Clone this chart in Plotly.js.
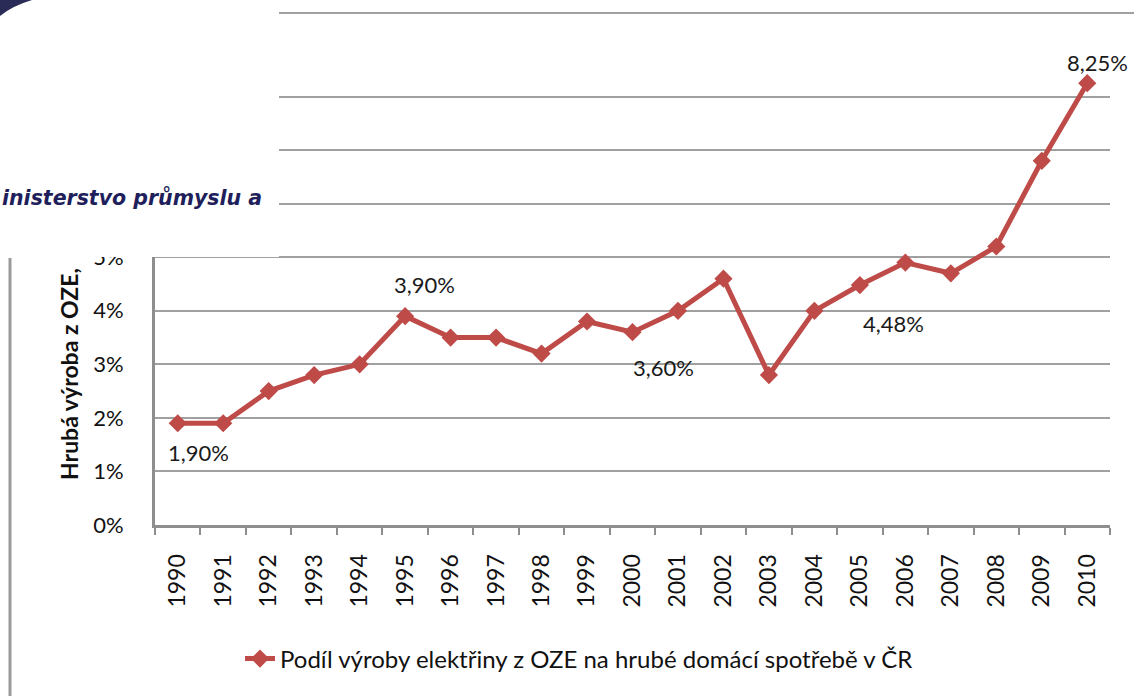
<!DOCTYPE html>
<html>
<head>
<meta charset="utf-8">
<script src="https://cdn.plot.ly/plotly-3.0.1.min.js"></script>
<style>
  html, body { margin: 0; padding: 0; background: #fff; }
  #chart { width: 1134px; height: 696px; }
</style>
</head>
<body>
<div id="chart"></div>
<script>
// data (share of RES electricity in gross domestic consumption, %)
let years = ['1990', '1991', '1992', '1993', '1994', '1995', '1996', '1997', '1998', '1999', '2000',
             '2001', '2002', '2003', '2004', '2005', '2006', '2007', '2008', '2009', '2010'];
let shares = [1.90, 1.90, 2.50, 2.80, 3.00, 3.90, 3.50, 3.50, 3.20, 3.80, 3.60,
              4.00, 4.60, 2.80, 4.00, 4.48, 4.90, 4.70, 5.20, 6.80, 8.25];
let labelYears = ['1990', '1995', '2000', '2005', '2010'];
// ticks 6-9 % are hidden under the slide's white block in the picture
let yTickVals = [0, 1, 2, 3, 4, 5, 6, 7, 8, 9];
let yTickText = ['0%', '1%', '2%', '3%', '4%', '5%', '', '', '', ''];
let seriesName = 'Podíl výroby elektřiny z OZE na hrubé domácí spotřebě v ČR';
let yTitle = 'Hrubá výroba z OZE,';
let slideText = 'inisterstvo průmyslu a';

// where each data label sits relative to its point (px)
let labelShift = {
    '1990': [21, -29],
    '1995': [19, 32],
    '2000': [31, -35],
    '2005': [34, -38],
    '2010': [10, 21]
};

let FONT = 'Lato, "Open Sans", sans-serif';
let RED = '#BE4B48';
let GRID = '#a0a0a0';
let AXIS = '#8e8e8e';

// plot area margins
let M = { l: 155, r: 24, t: 43, b: 171 };
let W = 1134, H = 696;
let pw = W - M.l - M.r, ph = H - M.t - M.b;
let px = x => (x - M.l) / pw;
let py = y => (H - M.b - y) / ph;

// 1. Trace data
let trace = {
    x: years,
    y: shares,
    name: seriesName,
    type: 'scatter',
    mode: 'lines+markers',
    line: { color: RED, width: 5 },
    marker: { symbol: 'diamond', size: 14, color: RED },
    hoverinfo: 'skip'
};

// data labels (category axis -> position by index)
let fmt = v => v.toFixed(2).replace('.', ',') + '%';
let labels = labelYears.map(yr => {
    let i = years.indexOf(yr);
    return {
        x: i, y: shares[i], xref: 'x', yref: 'y',
        text: fmt(shares[i]),
        showarrow: false,
        xshift: labelShift[yr][0],
        yshift: labelShift[yr][1],
        font: { family: FONT, size: 22, color: '#1a1a1a' }
    };
});

// cut-off axis title and the slide text lying over the chart
let extras = [
    {
        text: yTitle,
        xref: 'paper', yref: 'paper',
        x: px(69), y: py(482),
        xanchor: 'center', yanchor: 'bottom',
        textangle: -90,
        showarrow: false,
        font: { family: FONT, size: 23, color: '#111', weight: 'bold' }
    },
    {
        text: slideText,
        xref: 'paper', yref: 'paper',
        x: px(0), y: py(198),
        xanchor: 'left', yanchor: 'middle',
        showarrow: false,
        font: { family: '"DejaVu Sans", sans-serif', size: 20.5, color: '#1f1f5c', weight: 'bold', style: 'italic' }
    }
];

let shapes = [
    // white block of the slide covering the top-left corner
    {
        type: 'rect', xref: 'paper', yref: 'paper', layer: 'above',
        x0: px(-5), x1: px(279), y0: py(257), y1: py(-5),
        fillcolor: '#ffffff', line: { width: 0 }
    },
    // navy corner
    {
        type: 'path', xref: 'paper', yref: 'paper', layer: 'above',
        path: 'M' + px(0) + ',' + py(0) + ' L' + px(32) + ',' + py(0) +
              ' Q' + px(12) + ',' + py(6) + ' ' + px(0) + ',' + py(16) + ' Z',
        fillcolor: '#2b2b58', line: { width: 0 }
    },
    // top rule of the slide
    {
        type: 'line', xref: 'paper', yref: 'paper', layer: 'above',
        x0: px(279), x1: px(1134), y0: py(13), y1: py(13),
        line: { color: GRID, width: 2 }
    },
    // left border of the chart frame
    {
        type: 'line', xref: 'paper', yref: 'paper', layer: 'above',
        x0: px(10), x1: px(10), y0: py(258), y1: py(700),
        line: { color: '#9a9a9a', width: 3 }
    }
];

let layout = {
    width: W,
    height: H,
    margin: M,
    paper_bgcolor: '#ffffff',
    plot_bgcolor: '#ffffff',
    font: { family: FONT, color: '#111' },
    showlegend: true,
    legend: {
        orientation: 'h',
        x: px(240), xanchor: 'left',
        y: py(659), yanchor: 'middle',
        font: { family: FONT, size: 24, color: '#111' },
        bgcolor: 'rgba(0,0,0,0)'
    },
    xaxis: {
        type: 'category',
        range: [-0.5, 20.5],
        showgrid: false,
        zeroline: false,
        showline: true,
        linecolor: AXIS,
        linewidth: 3,
        ticks: 'outside',
        tickson: 'boundaries',
        ticklen: 7,
        tickwidth: 2,
        tickcolor: AXIS,
        tickangle: -90,
        ticklabelstandoff: 17,
        tickfont: { family: FONT, size: 23, color: '#111' },
        fixedrange: true
    },
    yaxis: {
        range: [0, 9],
        tickmode: 'array',
        tickvals: yTickVals,
        ticktext: yTickText,
        showgrid: true,
        gridcolor: GRID,
        gridwidth: 2,
        zeroline: false,
        showline: true,
        linecolor: AXIS,
        linewidth: 3,
        ticks: '',
        ticklabelstandoff: 24,
        tickfont: { family: FONT, size: 22, color: '#111' },
        fixedrange: true
    },
    annotations: labels.concat(extras),
    shapes: shapes
};

Plotly.newPlot('chart', [trace], layout, { displayModeBar: false, staticPlot: true });
</script>
</body>
</html>
